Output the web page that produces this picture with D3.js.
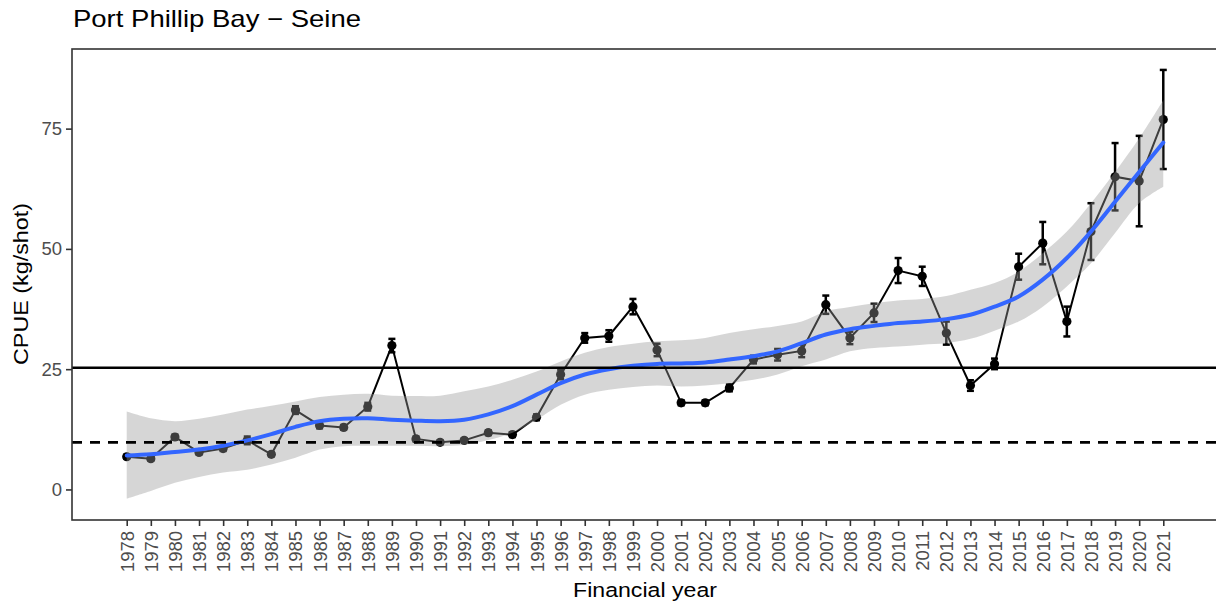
<!DOCTYPE html>
<html>
<head>
<meta charset="utf-8">
<script src="https://cdn.jsdelivr.net/npm/d3@7"></script>
<style>
  body { margin: 0; background: #ffffff; }
  svg { display: block; }
  text { font-family: "Liberation Sans", Arial, sans-serif; }
</style>
</head>
<body>
<svg id="chart" width="1216" height="605"></svg>
<script>
// Financial years on the x axis
const years = [1978, 1979, 1980, 1981, 1982, 1983, 1984, 1985, 1986, 1987,
               1988, 1989, 1990, 1991, 1992, 1993, 1994, 1995, 1996, 1997,
               1998, 1999, 2000, 2001, 2002, 2003, 2004, 2005, 2006, 2007,
               2008, 2009, 2010, 2011, 2012, 2013, 2014, 2015, 2016, 2017,
               2018, 2019, 2020, 2021];

// Annual CPUE (kg/shot)
const cpue = [6.8, 6.4, 10.9, 7.7, 8.5, 10.2, 7.3, 16.5, 13.3, 12.9,
              17.2, 29.9, 10.5, 9.8, 10.2, 11.8, 11.4, 15.0, 23.9, 31.5,
              31.9, 38.0, 29.0, 18.0, 18.0, 21.1, 27.0, 28.0, 28.8, 38.4,
              31.5, 36.7, 45.5, 44.3, 32.5, 21.6, 26.1, 46.3, 51.2, 34.9,
              53.6, 65.0, 64.1, 76.9];

// Standard error of each annual estimate
const cpueSe = [0.4, 0.4, 0.5, 0.4, 0.5, 0.8, 0.4, 0.8, 0.6, 0.5,
                0.8, 1.4, 0.5, 0.4, 0.4, 0.5, 0.5, 0.6, 1.0, 1.0,
                1.2, 1.6, 1.3, 0.5, 0.5, 0.7, 0.8, 1.2, 1.3, 1.9,
                1.3, 1.9, 2.6, 2.0, 2.4, 1.1, 1.1, 2.7, 4.4, 3.1,
                5.9, 7.0, 9.4, 10.3];

// Smoothed trend and its confidence band
const smoothFit = [7.05, 7.3, 7.8, 8.3, 9.1, 10.2, 11.5, 13.0, 14.2, 14.7,
                   14.8, 14.5, 14.3, 14.2, 14.5, 15.6, 17.3, 19.7, 22.1, 23.9,
                   25.0, 25.7, 26.1, 26.2, 26.4, 27.0, 27.7, 28.7, 30.4, 32.2,
                   33.3, 34.0, 34.6, 34.9, 35.4, 36.3, 38.0, 40.1, 43.6, 48.1,
                   53.6, 59.8, 66.0, 72.1];
const smoothLower = [-1.9, -0.3, 1.4, 2.6, 3.5, 4.1, 5.2, 6.6, 8.3, 9.0,
                     9.1, 9.1, 9.1, 9.0, 9.3, 10.3, 11.8, 14.5, 17.6, 19.7,
                     20.7, 21.3, 21.6, 21.4, 21.6, 22.1, 22.8, 23.9, 25.6, 27.0,
                     28.7, 29.4, 29.7, 30.1, 30.4, 31.3, 33.0, 34.9, 38.0, 42.2,
                     47.0, 53.3, 59.5, 62.9];
const smoothUpper = [16.2, 14.8, 14.2, 14.7, 15.6, 16.6, 17.4, 18.3, 19.2, 19.7,
                     19.9, 19.5, 19.4, 19.5, 20.4, 21.4, 22.8, 24.5, 26.6, 28.4,
                     29.6, 30.3, 30.8, 31.0, 31.5, 32.5, 33.3, 34.0, 34.9, 37.0,
                     37.9, 38.7, 39.3, 39.6, 40.2, 41.5, 42.9, 45.3, 49.1, 53.6,
                     59.5, 66.0, 73.0, 80.9];

// Reference levels (solid and dashed horizontal lines)
const targetLevel = 25.3;
const limitLevel = 9.8;

const yTickValues = [0, 25, 50, 75];
const xTickLabels = years.map(String);

const titleText = "Port Phillip Bay \u2212 Seine";
const xTitle = "Financial year";
const yTitle = "CPUE (kg/shot)";

// ---- layout ----
const panel = { left: 72, right: 1218, top: 49, bottom: 520 };

const svg = d3.select("#chart");

const x = d3.scaleLinear()
  .domain([1978 - 2.27, 2021 + 2.27])
  .range([panel.left, panel.right]);

const y = d3.scaleLinear()
  .domain([-6.35, 91.55])
  .range([panel.bottom, panel.top]);

const rows = years.map((yr, i) => ({
  year: yr, value: cpue[i], se: cpueSe[i],
  fit: smoothFit[i], lo: smoothLower[i], hi: smoothUpper[i]
}));

const plot = svg.append("g");

// error bars
const err = plot.append("g").attr("stroke", "#000").attr("stroke-width", 2.5);
const capHalf = 3.5;
rows.forEach(d => {
  const xp = x(d.year), y0 = y(d.value - d.se), y1 = y(d.value + d.se);
  err.append("line").attr("x1", xp).attr("x2", xp).attr("y1", y0).attr("y2", y1);
  err.append("line").attr("x1", xp - capHalf).attr("x2", xp + capHalf).attr("y1", y0).attr("y2", y0);
  err.append("line").attr("x1", xp - capHalf).attr("x2", xp + capHalf).attr("y1", y1).attr("y2", y1);
});

// connecting line
plot.append("path")
  .datum(rows)
  .attr("fill", "none")
  .attr("stroke", "#000")
  .attr("stroke-width", 2)
  .attr("d", d3.line().x(d => x(d.year)).y(d => y(d.value)));

// points
plot.append("g").selectAll("circle")
  .data(rows)
  .join("circle")
  .attr("cx", d => x(d.year))
  .attr("cy", d => y(d.value))
  .attr("r", 4.6)
  .attr("fill", "#000");

// confidence band
plot.append("path")
  .datum(rows)
  .attr("fill", "#999999")
  .attr("fill-opacity", 0.4)
  .attr("d", d3.area()
    .curve(d3.curveCatmullRom.alpha(0.5))
    .x(d => x(d.year)).y0(d => y(d.lo)).y1(d => y(d.hi)));

// smoothed trend
plot.append("path")
  .datum(rows)
  .attr("fill", "none")
  .attr("stroke", "#3366FF")
  .attr("stroke-width", 4)
  .attr("stroke-linecap", "round")
  .attr("d", d3.line()
    .curve(d3.curveCatmullRom.alpha(0.5))
    .x(d => x(d.year)).y(d => y(d.fit)));

// reference levels
plot.append("line")
  .attr("x1", panel.left).attr("x2", panel.right)
  .attr("y1", y(targetLevel)).attr("y2", y(targetLevel))
  .attr("stroke", "#000").attr("stroke-width", 2.7);
plot.append("line")
  .attr("x1", panel.left).attr("x2", panel.right)
  .attr("y1", y(limitLevel)).attr("y2", y(limitLevel))
  .attr("stroke", "#000").attr("stroke-width", 2.7)
  .attr("stroke-dasharray", "10,8");

// panel border
svg.append("rect")
  .attr("x", panel.left).attr("y", panel.top)
  .attr("width", panel.right - panel.left)
  .attr("height", panel.bottom - panel.top)
  .attr("fill", "none")
  .attr("stroke", "#333333")
  .attr("stroke-width", 1.6);

// y axis
const yAxis = svg.append("g")
  .attr("transform", `translate(${panel.left},0)`)
  .call(d3.axisLeft(y).tickValues(yTickValues).tickSize(6).tickPadding(4));
yAxis.select(".domain").remove();
yAxis.selectAll(".tick line").attr("stroke", "#333333").attr("stroke-width", 1.6);
yAxis.selectAll(".tick text")
  .attr("fill", "#4D4D4D")
  .style("font-size", "18.5px")
  .style("font-family", '"Liberation Sans", Arial, sans-serif');

// x axis
const xAxis = svg.append("g")
  .attr("transform", `translate(0,${panel.bottom})`)
  .call(d3.axisBottom(x).tickValues(years).tickFormat((d, i) => xTickLabels[i]).tickSize(6));
xAxis.select(".domain").remove();
xAxis.selectAll(".tick line").attr("stroke", "#333333").attr("stroke-width", 1.6);
xAxis.selectAll(".tick text")
  .attr("fill", "#4D4D4D")
  .style("font-size", "18.5px")
  .style("font-family", '"Liberation Sans", Arial, sans-serif')
  .attr("text-anchor", "end")
  .attr("transform", "rotate(-90)")
  .attr("x", -11)
  .attr("y", 0)
  .attr("dy", "0.35em");

// titles
svg.append("text")
  .attr("x", 73).attr("y", 27)
  .attr("fill", "#000")
  .style("font-size", "24px")
  .attr("textLength", 288)
  .attr("lengthAdjust", "spacingAndGlyphs")
  .text(titleText);

svg.append("text")
  .attr("x", 645).attr("y", 597)
  .attr("text-anchor", "middle")
  .attr("fill", "#000")
  .style("font-size", "20.5px")
  .attr("textLength", 144)
  .attr("lengthAdjust", "spacingAndGlyphs")
  .text(xTitle);

svg.append("text")
  .attr("transform", "translate(28,284) rotate(-90)")
  .attr("text-anchor", "middle")
  .attr("fill", "#000")
  .style("font-size", "21px")
  .attr("textLength", 162)
  .attr("lengthAdjust", "spacingAndGlyphs")
  .text(yTitle);
</script>
</body>
</html>
